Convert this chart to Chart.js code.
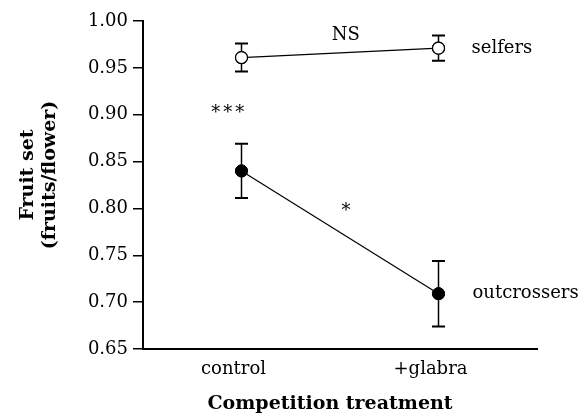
<!DOCTYPE html>
<html>
<head>
<meta charset="utf-8">
<script src="https://cdn.jsdelivr.net/npm/chart.js@4/dist/chart.umd.min.js"></script>
<style>
html,body{margin:0;padding:0;background:#fff;}
#wrap{width:585px;height:417px;position:relative;}
</style>
</head>
<body>
<div id="wrap"><canvas id="c" width="585" height="417"></canvas></div>
<script>
const categories = ["control", "+glabra"];
const selfers = [0.961, 0.971];
const selfersErr = [0.015, 0.0135];
const outcrossers = [0.840, 0.709];
const outcrossersErr = [0.029, 0.035];
const yTicks = [0.65, 0.70, 0.75, 0.80, 0.85, 0.90, 0.95, 1.00];
const seriesNames = ["selfers", "outcrossers"];
const annotations = [
  {text: "NS", x: 0.53, y: 0.985, spacing: 0},
  {text: "***", x: -0.07, y: 0.901, spacing: 3},
  {text: "*", x: 0.53, y: 0.797, spacing: 0}
];

const FONT = "'DejaVu Serif', serif";

const errorBarPlugin = {
  id: 'errbars',
  afterDatasetsDraw(chart) {
    const ctx = chart.ctx;
    const ys = chart.scales.y;
    chart.data.datasets.forEach((ds, di) => {
      const meta = chart.getDatasetMeta(di);
      meta.data.forEach((pt, i) => {
        const v = ds.data[i], e = ds.errors[i];
        const x = pt.x;
        const yt = ys.getPixelForValue(v + e);
        const yb = ys.getPixelForValue(v - e);
        ctx.save();
        ctx.strokeStyle = '#000';
        ctx.lineWidth = 1.5;
        ctx.beginPath();
        ctx.moveTo(x, yt); ctx.lineTo(x, yb);
        ctx.stroke();
        ctx.lineWidth = 2;
        ctx.beginPath();
        ctx.moveTo(x - 6.5, yt); ctx.lineTo(x + 6.5, yt);
        ctx.moveTo(x - 6.5, yb); ctx.lineTo(x + 6.5, yb);
        ctx.stroke();
        ctx.restore();
      });
    });
    chart.data.datasets.forEach((ds, di) => {
      const meta = chart.getDatasetMeta(di);
      meta.data.forEach(pt => pt.draw(ctx, chart.chartArea));
    });
  }
};

const textPlugin = {
  id: 'texts',
  afterDraw(chart) {
    const ctx = chart.ctx;
    const xs = chart.scales.x, ys = chart.scales.y;
    const catPx = i => xs.getPixelForValue(i);
    const interp = f => catPx(0) + (catPx(1) - catPx(0)) * f;
    ctx.save();
    ctx.fillStyle = '#000';
    ctx.font = "18px " + FONT;
    ctx.textAlign = 'center';
    ctx.textBaseline = 'middle';
    annotations.forEach(a => {
      ctx.letterSpacing = a.spacing + 'px';
      ctx.fillText(a.text, interp(a.x) + a.spacing / 2, ys.getPixelForValue(a.y));
    });
    ctx.letterSpacing = '0px';
    ctx.textAlign = 'left';
    const last = categories.length - 1;
    ctx.fillText(seriesNames[0], catPx(last) + 33, ys.getPixelForValue(selfers[last]));
    ctx.fillText(seriesNames[1], catPx(last) + 34, ys.getPixelForValue(outcrossers[last]));
    ctx.font = "bold 19px " + FONT;
    ctx.textAlign = 'center';
    ctx.fillText("Competition treatment", 330, 404);
    ctx.save();
    ctx.translate(28, 175);
    ctx.rotate(-Math.PI / 2);
    ctx.fillText("Fruit set", 0, 0);
    ctx.restore();
    ctx.save();
    ctx.translate(50, 175);
    ctx.rotate(-Math.PI / 2);
    ctx.fillText("(fruits/flower)", 0, 0);
    ctx.restore();
    ctx.restore();
  }
};

new Chart(document.getElementById('c'), {
  type: 'line',
  data: {
    labels: categories,
    datasets: [
      {
        label: seriesNames[0],
        data: selfers,
        errors: selfersErr,
        borderColor: '#000',
        borderWidth: 1.2,
        backgroundColor: '#fff',
        pointBackgroundColor: '#fff',
        pointBorderColor: '#000',
        pointBorderWidth: 1.2,
        pointRadius: 6,
        tension: 0
      },
      {
        label: seriesNames[1],
        data: outcrossers,
        errors: outcrossersErr,
        borderColor: '#000',
        borderWidth: 1.2,
        backgroundColor: '#000',
        pointBackgroundColor: '#000',
        pointBorderColor: '#000',
        pointBorderWidth: 1,
        pointRadius: 6,
        tension: 0
      }
    ]
  },
  options: {
    responsive: false,
    animation: false,
    events: [],
    layout: {padding: {left: 0, right: 48, top: 21, bottom: 0}},
    plugins: {legend: {display: false}, tooltip: {enabled: false}, title: {display: false}},
    scales: {
      x: {
        type: 'category',
        offset: true,
        grid: {display: false, drawTicks: false},
        border: {display: true, color: '#000', width: 2},
        ticks: {
          color: '#000',
          font: {family: FONT, size: 18},
          padding: 10,
          labelOffset: -8,
          maxRotation: 0
        },
        afterFit(s) { s.height = 417 - 349; }
      },
      y: {
        min: 0.65,
        max: 1.0,
        afterBuildTicks(s) { s.ticks = yTicks.map(v => ({value: v})); },
        grid: {display: true, drawOnChartArea: false, drawTicks: true, tickLength: 10, color: '#000', lineWidth: 1.5},
        border: {display: true, color: '#000', width: 2},
        ticks: {
          color: '#000',
          font: {family: FONT, size: 18},
          padding: 5,
          callback: v => Number(v).toFixed(2)
        },
        afterFit(s) { s.width = 143; }
      }
    }
  },
  plugins: [errorBarPlugin, textPlugin]
});
</script>
</body>
</html>
